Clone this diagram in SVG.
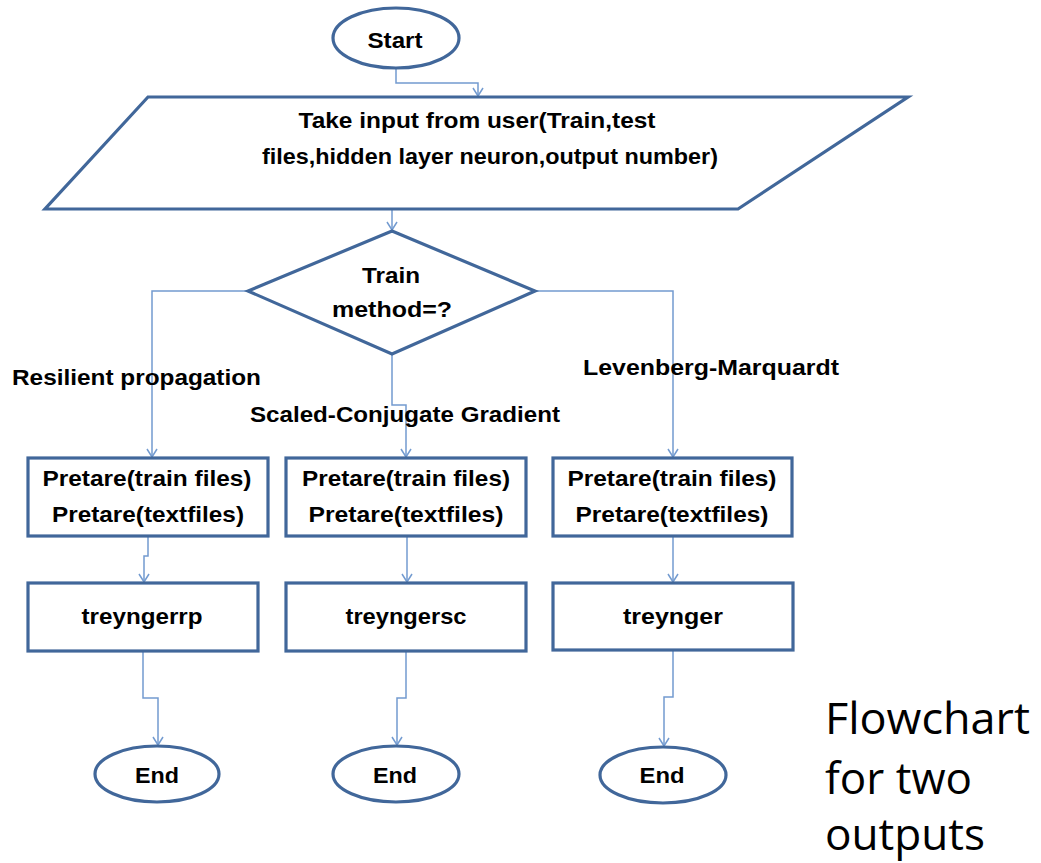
<svg xmlns="http://www.w3.org/2000/svg" width="1041" height="863" viewBox="0 0 1041 863">
  <style>
    .shape { fill: #ffffff; stroke: #41679a; stroke-width: 3.2; }
    .conn { fill: none; stroke: #739bd0; stroke-width: 1.5; }
    .lbl { font-family: "Liberation Sans", Arial, sans-serif; font-weight: bold; font-size: 22px; fill: #000000; }
    .mid { text-anchor: middle; }
    .note { font-family: "Open Sans", "Liberation Sans", sans-serif; font-size: 43px; fill: #000000; }
  </style>
  <defs>
    <marker id="arrow" viewBox="0 0 10 12" refX="9" refY="6" markerWidth="10" markerHeight="12" orient="auto" markerUnits="userSpaceOnUse">
      <path d="M1,1 L9,6 L1,11" fill="none" stroke="#739bd0" stroke-width="1.5"/>
    </marker>
  </defs>
  <rect width="1041" height="863" fill="#ffffff"/>

  <!-- connectors -->
  <g id="connectors" class="conn" marker-end="url(#arrow)">
    <path d="M396,68 V83 H478 V96"/>
    <path d="M392,209 V230"/>
    <path d="M248,291 H152 V457"/>
    <path d="M392,354 V405 H406 V457"/>
    <path d="M535,291 H673 V457"/>
    <path d="M148,536 V556 H144 V582"/>
    <path d="M407,536 V582"/>
    <path d="M673,536 V582"/>
    <path d="M143,651 V698 H158 V745"/>
    <path d="M406,651 V698 H397 V745"/>
    <path d="M673,651 V697 H664 V746"/>
  </g>

  <g id="start">
    <ellipse class="shape" cx="396" cy="38" rx="63" ry="30"/>
    <text class="lbl mid" x="395" y="48" font-size="23" textLength="55" lengthAdjust="spacingAndGlyphs">Start</text>
  </g>

  <g id="input">
    <polygon class="shape" points="148,97 908,97 738,209 45,209"/>
    <text class="lbl mid" x="477" y="128" textLength="357" lengthAdjust="spacingAndGlyphs">Take input from user(Train,test</text>
    <text class="lbl mid" x="490" y="164" textLength="456" lengthAdjust="spacingAndGlyphs">files,hidden layer neuron,output number)</text>
  </g>

  <g id="decision">
    <polygon class="shape" points="392,231 535,291 392,354 248,291"/>
    <text class="lbl mid" x="391" y="283" font-size="23" textLength="58" lengthAdjust="spacingAndGlyphs">Train</text>
    <text class="lbl mid" x="392" y="317" font-size="23" textLength="120" lengthAdjust="spacingAndGlyphs">method=?</text>
  </g>

  <!-- branch labels -->
  <g id="branch-labels">
    <text class="lbl" x="12" y="385" textLength="249" lengthAdjust="spacingAndGlyphs">Resilient propagation</text>
    <text class="lbl" x="250" y="422" textLength="310" lengthAdjust="spacingAndGlyphs">Scaled-Conjugate Gradient</text>
    <text class="lbl" x="583" y="375" textLength="256" lengthAdjust="spacingAndGlyphs">Levenberg-Marquardt</text>
  </g>

  <g id="prepare-rp">
    <rect class="shape" x="28" y="458" width="240" height="78"/>
    <text class="lbl mid" x="147" y="486" textLength="209" lengthAdjust="spacingAndGlyphs">Pretare(train files)</text>
    <text class="lbl mid" x="148" y="522" textLength="192" lengthAdjust="spacingAndGlyphs">Pretare(textfiles)</text>
  </g>
  <g id="prepare-sc">
    <rect class="shape" x="286" y="458" width="240" height="78"/>
    <text class="lbl mid" x="406" y="486" textLength="208" lengthAdjust="spacingAndGlyphs">Pretare(train files)</text>
    <text class="lbl mid" x="406" y="522" textLength="195" lengthAdjust="spacingAndGlyphs">Pretare(textfiles)</text>
  </g>
  <g id="prepare-lm">
    <rect class="shape" x="553" y="458" width="239" height="78"/>
    <text class="lbl mid" x="672" y="486" textLength="209" lengthAdjust="spacingAndGlyphs">Pretare(train files)</text>
    <text class="lbl mid" x="672" y="522" textLength="193" lengthAdjust="spacingAndGlyphs">Pretare(textfiles)</text>
  </g>

  <g id="train-rp">
    <rect class="shape" x="28" y="583" width="230" height="68"/>
    <text class="lbl mid" x="142" y="624" textLength="121" lengthAdjust="spacingAndGlyphs">treyngerrp</text>
  </g>
  <g id="train-sc">
    <rect class="shape" x="286" y="583" width="240" height="68"/>
    <text class="lbl mid" x="406" y="624" textLength="121" lengthAdjust="spacingAndGlyphs">treyngersc</text>
  </g>
  <g id="train-lm">
    <rect class="shape" x="553" y="583" width="240" height="67"/>
    <text class="lbl mid" x="673" y="624" textLength="100" lengthAdjust="spacingAndGlyphs">treynger</text>
  </g>

  <g id="end-rp">
    <ellipse class="shape" cx="157" cy="774" rx="62" ry="28"/>
    <text class="lbl mid" x="157" y="783" textLength="44" lengthAdjust="spacingAndGlyphs">End</text>
  </g>
  <g id="end-sc">
    <ellipse class="shape" cx="396" cy="774" rx="63" ry="28"/>
    <text class="lbl mid" x="395" y="783" textLength="44" lengthAdjust="spacingAndGlyphs">End</text>
  </g>
  <g id="end-lm">
    <ellipse class="shape" cx="663" cy="775" rx="63" ry="28"/>
    <text class="lbl mid" x="662" y="783" textLength="45" lengthAdjust="spacingAndGlyphs">End</text>
  </g>

  <g id="caption">
    <text class="note" x="825" y="734" textLength="205" lengthAdjust="spacingAndGlyphs">Flowchart</text>
    <text class="note" x="825" y="794" textLength="147" lengthAdjust="spacingAndGlyphs">for two</text>
    <text class="note" x="825" y="850" textLength="160" lengthAdjust="spacingAndGlyphs">outputs</text>
  </g>
</svg>
